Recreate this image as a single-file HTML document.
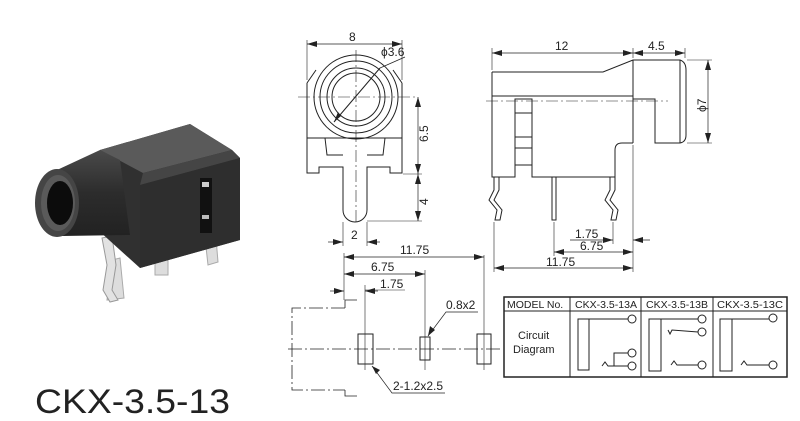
<!DOCTYPE html>
<html><head><meta charset="utf-8"><style>
html,body{margin:0;padding:0;background:#fff;width:800px;height:421px;overflow:hidden}
svg{display:block}
text{font-family:"Liberation Sans",sans-serif;fill:#222}
</style></head><body>
<svg width="800" height="421" viewBox="0 0 800 421" xmlns="http://www.w3.org/2000/svg">
<defs>
<marker id="a" viewBox="0 0 10 6" refX="10" refY="3" markerWidth="10" markerHeight="6" orient="auto-start-reverse" markerUnits="userSpaceOnUse"><path d="M0,0 L10,3 L0,6 z" fill="#222"/></marker>
<linearGradient id="cyl" x1="0" y1="0" x2="0" y2="1"><stop offset="0" stop-color="#4a4a4a"/><stop offset=".5" stop-color="#2c2c2c"/><stop offset="1" stop-color="#222"/></linearGradient>
</defs>

<!-- photo -->
<g>
<path d="M107,300 L112,260 L120,258 L124,298 Z" fill="#ddd" stroke="#aaa" stroke-width="1"/>
<path d="M102,238 L112,236 L116,265 L112,290 L118,300 L110,302 L103,290 L107,265 Z" fill="#e2e2e2" stroke="#999" stroke-width="1"/>
<path d="M155,260 L168,260 L168,275 L155,275 Z" fill="#ddd" stroke="#aaa"/>
<path d="M205,238 L216,238 L218,262 L208,265 Z" fill="#ddd" stroke="#aaa"/>
<path d="M100,150 L190,124 L232,150 L240,158 L240,240 L140,268 L120,250 L98,230 Z" fill="#303030"/>
<path d="M100,150 L190,124 L232,150 L143,173 Z" fill="#5a5a5a"/>
<path d="M143,173 L232,150 L240,158 L140,185 Z" fill="#454545"/>
<path d="M140,185 L240,158 L240,240 L140,268 Z" fill="#2e2e2e"/>
<rect x="200" y="178" width="12" height="55" fill="#111"/>
<rect x="202" y="182" width="7" height="5" fill="#ccc"/>
<rect x="202" y="215" width="7" height="4" fill="#bbb"/>
<path d="M57,170 L100,150 L120,160 L130,235 L62,236 Z" fill="url(#cyl)"/>
<ellipse cx="57" cy="203" rx="22" ry="34" fill="#454545"/>
<ellipse cx="58" cy="203" rx="17" ry="28" fill="#5a5a5a"/>
<ellipse cx="60" cy="203" rx="13" ry="22" fill="#0c0c0c"/>
</g>
<text x="35" y="413" font-size="34" textLength="195" lengthAdjust="spacingAndGlyphs">CKX-3.5-13</text>

<g fill="none" stroke="#222" stroke-width="1">
<!-- front view -->
<path d="M307,83 L316,70 M402,83 L393,70"/>
<path d="M307,83 L307,173 L319,173 L319,167 L343,167 L343,210 A12,12 0 0 0 367,210 L367,167 L390,167 L390,173 L402,173 L402,83"/>
<line x1="307" y1="138" x2="402" y2="138"/>
<path d="M325,138 L327,155 L343,155 M385,138 L383,155 L367,155"/>
<circle cx="356" cy="97" r="42"/>
<circle cx="356" cy="97" r="36"/>
<circle cx="356" cy="97" r="29"/>
<circle cx="356" cy="97" r="24"/>
<line x1="334" y1="122" x2="380" y2="68"/>
<line x1="380" y1="68" x2="405" y2="57" stroke-width=".7"/>
<g stroke-width=".6" stroke-dasharray="12,3,2,3"><line x1="298" y1="97" x2="415" y2="97"/><line x1="356" y1="50" x2="356" y2="225"/></g>
<g stroke-width=".6">
<line x1="307" y1="40" x2="307" y2="80"/><line x1="402" y1="40" x2="402" y2="80"/>
<line x1="403" y1="174" x2="422" y2="174"/><line x1="367" y1="221" x2="422" y2="221"/>
<line x1="343" y1="222" x2="343" y2="246"/><line x1="367" y1="222" x2="367" y2="246"/>
</g>
<line x1="307" y1="44" x2="402" y2="44" marker-start="url(#a)" marker-end="url(#a)" stroke-width=".7"/>
<line x1="418" y1="97" x2="418" y2="174" marker-start="url(#a)" marker-end="url(#a)" stroke-width=".7"/>
<line x1="418" y1="174" x2="418" y2="221" marker-start="url(#a)" marker-end="url(#a)" stroke-width=".7"/>
<line x1="328" y1="242" x2="343" y2="242" marker-end="url(#a)" stroke-width=".7"/>
<line x1="380" y1="242" x2="367" y2="242" marker-end="url(#a)" stroke-width=".7"/>

<!-- side view -->
<path d="M492,72 L603,72 L633,60 L680,60 Q686,62 686,70 L686,135 Q686,142 680,143 L655,143 L655,99 L633,99"/>
<line x1="633" y1="60" x2="633" y2="143"/>
<line x1="680" y1="60" x2="680" y2="143"/>
<path d="M492,72 L492,177 L515,177 L515,99 L532,99 L532,177 L615,177 L615,150 Q615,143 622,143 L633,143"/>
<line x1="492" y1="96" x2="633" y2="96"/>
<path d="M515,113 L532,113 M515,137 L532,137 M515,148 L532,148 M515,165 L532,165"/>
<path d="M494,177 L494,190 L489,200 L497,210 L495,220 L500,220 L502,210 L494,200 L499,190 L499,177"/>
<path d="M610,177 L610,190 L605,200 L613,210 L611,220 L616,220 L618,210 L610,200 L615,190 L615,177"/>
<rect x="552" y="177" width="4" height="43"/>
<line x1="486" y1="101" x2="668" y2="101" stroke-width=".6" stroke-dasharray="12,3,2,3"/>
<g stroke-width=".6">
<line x1="492" y1="48" x2="492" y2="70"/><line x1="633" y1="48" x2="633" y2="58"/><line x1="685" y1="48" x2="685" y2="58"/>
<line x1="687" y1="60" x2="712" y2="60"/><line x1="687" y1="143" x2="712" y2="143"/>
<line x1="494" y1="222" x2="494" y2="272"/><line x1="554" y1="222" x2="554" y2="256"/><line x1="613" y1="222" x2="613" y2="244"/>
<line x1="633" y1="145" x2="633" y2="272"/>
</g>
<line x1="492" y1="53" x2="633" y2="53" marker-start="url(#a)" marker-end="url(#a)" stroke-width=".7"/>
<line x1="633" y1="53" x2="685" y2="53" marker-start="url(#a)" marker-end="url(#a)" stroke-width=".7"/>
<line x1="708" y1="60" x2="708" y2="143" marker-start="url(#a)" marker-end="url(#a)" stroke-width=".7"/>
<line x1="570" y1="240" x2="613" y2="240" marker-end="url(#a)" stroke-width=".7"/>
<line x1="650" y1="240" x2="633" y2="240" marker-end="url(#a)" stroke-width=".7"/>
<line x1="554" y1="252" x2="633" y2="252" marker-start="url(#a)" marker-end="url(#a)" stroke-width=".7"/>
<line x1="494" y1="268" x2="633" y2="268" marker-start="url(#a)" marker-end="url(#a)" stroke-width=".7"/>

<!-- bottom view -->
<g stroke-width=".8" stroke-dasharray="14,3,2,3">
<path d="M345,308 L292,308 L292,390 L345,390"/>
<line x1="288" y1="349" x2="500" y2="349"/>
</g>
<path d="M345,308 L345,300 L357,300 M345,390 L345,396 L357,396" stroke-width=".8"/>
<rect x="358" y="334" width="15" height="30"/>
<rect x="420" y="337" width="10" height="23"/>
<rect x="477" y="334" width="14" height="30"/>
<g stroke-width=".6">
<line x1="365" y1="285" x2="365" y2="370"/><line x1="425" y1="270" x2="425" y2="370"/><line x1="484" y1="255" x2="484" y2="370"/>
<line x1="344" y1="253" x2="344" y2="300"/>
<line x1="365" y1="290" x2="405" y2="290"/>
</g>
<line x1="344" y1="257" x2="484" y2="257" marker-start="url(#a)" marker-end="url(#a)" stroke-width=".7"/>
<line x1="344" y1="274" x2="425" y2="274" marker-start="url(#a)" marker-end="url(#a)" stroke-width=".7"/>
<line x1="330" y1="291" x2="344" y2="291" marker-end="url(#a)" stroke-width=".7"/>
<line x1="378" y1="291" x2="365" y2="291" marker-end="url(#a)" stroke-width=".7"/>
<path d="M478,312 L446,312 L428,336" stroke-width=".7"/>
<path d="M372,366 L392,393 L445,393" stroke-width=".7"/>

<!-- table -->
<rect x="504" y="297" width="283" height="80" stroke-width="1.5"/>
<line x1="504" y1="311" x2="787" y2="311"/>
<line x1="570" y1="297" x2="570" y2="377"/><line x1="641" y1="297" x2="641" y2="377"/><line x1="713" y1="297" x2="713" y2="377"/>
<rect x="578" y="319" width="11" height="51"/>
<path d="M589,319 L628,319"/><circle cx="632" cy="319" r="4"/>
<circle cx="632" cy="353" r="4"/><circle cx="632" cy="366" r="4"/>
<path d="M602,366 L605,362 L608,366 L628,366 M614,366 L614,353 L628,353"/>
<rect x="649" y="319" width="12" height="52"/>
<path d="M661,319 L698,319"/><circle cx="702" cy="319" r="4"/>
<path d="M668,330 L670,334 L672,330 L698,332" /><circle cx="702" cy="332" r="4"/>
<path d="M671,365 L674,361 L677,365 L698,365"/><circle cx="702" cy="365" r="4"/>
<rect x="720" y="319" width="12" height="52"/>
<path d="M732,319 L769,319"/><circle cx="773" cy="318" r="4"/>
<path d="M741,365 L744,361 L747,365 L769,365"/><circle cx="773" cy="365" r="4"/>
</g>
<path d="M334,122 L338,112 L341,116 Z" fill="#222"/>
<path d="M428,336 L430,326 L435,330 Z" fill="#222"/>
<path d="M372,366 L380,370 L376,374 Z" fill="#222"/>

<g font-size="12">
<text x="349" y="41">8</text>
<text x="381" y="56">ϕ3.6</text>
<text x="428" y="142" transform="rotate(-90 428 142)">6.5</text>
<text x="428" y="205" transform="rotate(-90 428 205)">4</text>
<text x="351" y="239">2</text>
<text x="555" y="50">12</text>
<text x="648" y="50">4.5</text>
<text x="706" y="112" transform="rotate(-90 706 112)">ϕ7</text>
<text x="575" y="238">1.75</text>
<text x="580" y="250">6.75</text>
<text x="546" y="266">11.75</text>
<text x="400" y="254">11.75</text>
<text x="371" y="271">6.75</text>
<text x="380" y="288">1.75</text>
<text x="446" y="309">0.8x2</text>
<text x="393" y="390">2-1.2x2.5</text>
<text x="507" y="308" font-size="10.5">MODEL No.</text>
<text x="575" y="308" font-size="10" textLength="62" lengthAdjust="spacingAndGlyphs">CKX-3.5-13A</text>
<text x="646" y="308" font-size="10" textLength="62" lengthAdjust="spacingAndGlyphs">CKX-3.5-13B</text>
<text x="717" y="308" font-size="10" textLength="66" lengthAdjust="spacingAndGlyphs">CKX-3.5-13C</text>
<text x="518" y="339" font-size="11">Circuit</text>
<text x="513" y="353" font-size="11">Diagram</text>
</g>
</svg>
</body></html>
